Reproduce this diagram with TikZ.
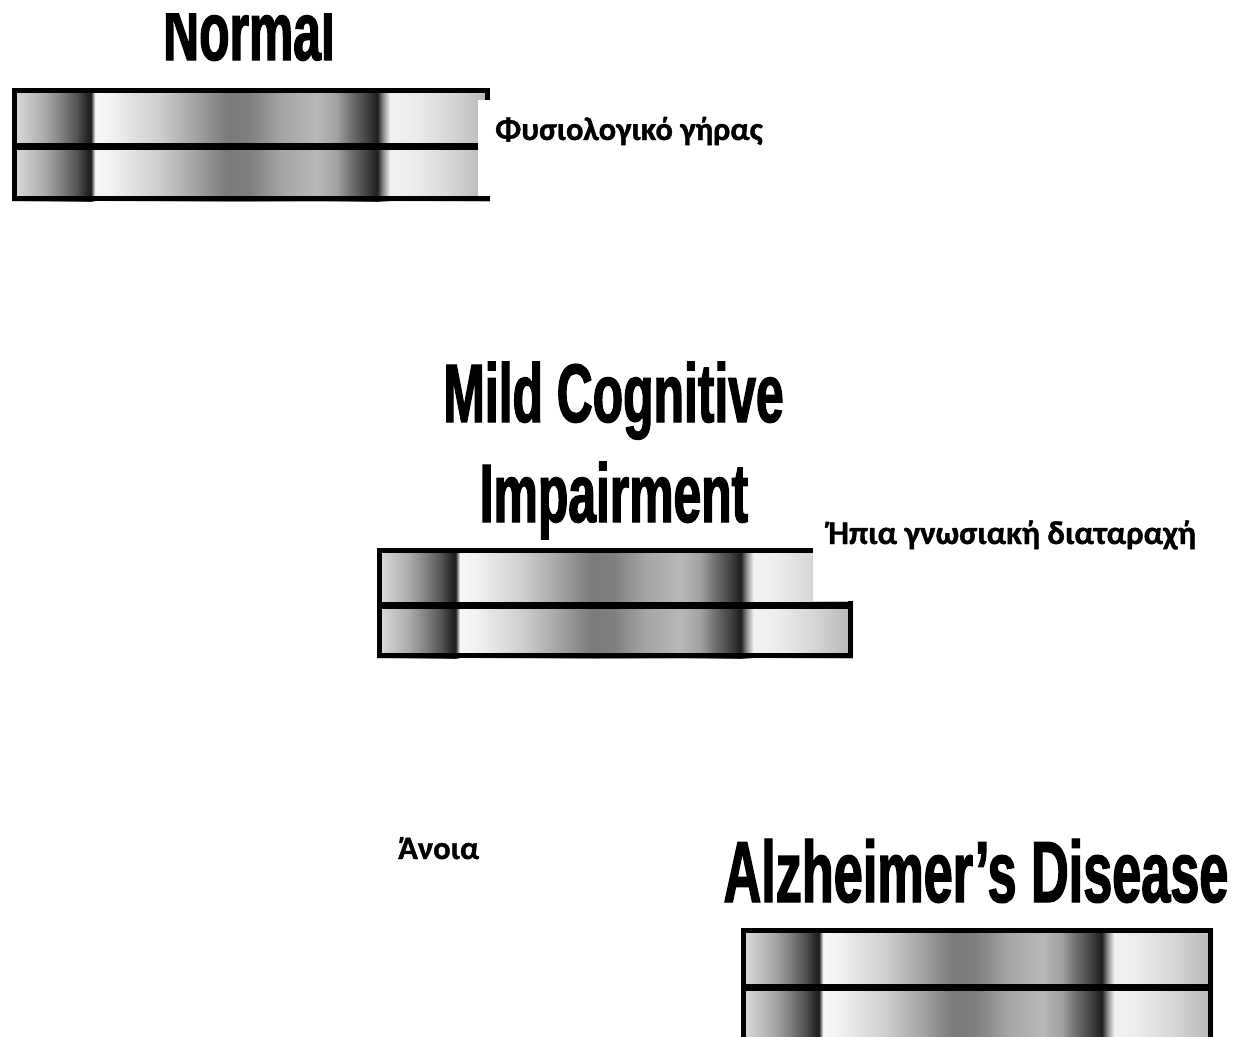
\documentclass[tikz,border=0pt]{standalone}
\usepackage{fontspec}
\newfontfamily\titlefont[FakeStretch=0.6,FakeBold=1.5]{Liberation Sans Bold}
\newfontfamily\grfont[FakeBold=1.2]{Carlito Bold}
\pgfdeclarehorizontalshading{barshade}{100bp}{%
rgb(0bp)=(.82,.82,.82);
rgb(25bp)=(.82,.82,.82);
rgb(25.4bp)=(.85,.85,.85);
rgb(28.25bp)=(.68,.68,.68);
rgb(30bp)=(.52,.52,.52);
rgb(31.8bp)=(.32,.32,.32);
rgb(32.85bp)=(.15,.15,.15);
rgb(33.25bp)=(.12,.12,.12);
rgb(33.7bp)=(.97,.97,.97);
rgb(35.25bp)=(.95,.95,.95);
rgb(40.5bp)=(.80,.80,.80);
rgb(43.95bp)=(.65,.65,.65);
rgb(47.5bp)=(.48,.48,.48);
rgb(49.9bp)=(.50,.50,.50);
rgb(53.35bp)=(.65,.65,.65);
rgb(56.9bp)=(.72,.72,.72);
rgb(59bp)=(.63,.63,.63);
rgb(60.35bp)=(.45,.45,.45);
rgb(62.15bp)=(.25,.25,.25);
rgb(63.2bp)=(.12,.12,.12);
rgb(63.8bp)=(.55,.55,.55);
rgb(64.55bp)=(.95,.95,.95);
rgb(67.35bp)=(.92,.92,.92);
rgb(70.8bp)=(.84,.84,.84);
rgb(73.75bp)=(.75,.75,.75);
rgb(75bp)=(.72,.72,.72);
rgb(100bp)=(.72,.72,.72)}
\begin{document}
\begin{tikzpicture}[x=1pt,y=-1pt,
  frame/.style={line width=5pt, line join=miter},
  divider/.style={line width=7pt},
  bar/.style={shading=barshade},
  whitebox/.style={fill=white, inner sep=0pt, anchor=south west},
  title/.style={font=\titlefont\fontsize{83pt}{83pt}\selectfont, inner sep=0pt, anchor=base},
  grk/.style={font=\grfont\fontsize{32.5pt}{32.5pt}\selectfont, inner sep=0pt, anchor=base west}]
\useasboundingbox[fill=white] (0,0) rectangle (1246,1036);
\begin{scope}
\clip (0,0) rectangle (1246,1036);
% Normal
\begin{scope}
\clip (0,13) rectangle (1246,100);
\node[title] (tNormal) at (249,60) {Normal};
\end{scope}
\fill[bar] (12,88) rectangle (490,201);
\draw[frame] (14.5,90.5) rectangle (487.5,198.5);
\draw[divider] (12,146.5) -- (490,146.5);
\node[whitebox, minimum width=320pt, minimum height=96pt] (boxN) at (478,196) {};
\node[grk] (gN) at (495,140) {Φυσιολογικό γήρας};
% MCI
\node[title] (tMCI1) at (613.5,422) {Mild Cognitive};
\node[title] (tMCI2) at (614,522) {Impairment};
\fill[bar] (377,548) rectangle (853,658);
\draw[frame] (379.5,550.5) rectangle (850.5,655.5);
\node[whitebox, minimum width=430pt, minimum height=62pt] (boxM) at (813,601.5) {};
\draw[divider] (377,605) -- (853,605);
\node[grk, font=\grfont\fontsize{33pt}{33pt}\selectfont] (gM) at (828,544) {Ήπια γνωσιακή διαταραχή};
% Alzheimer
\node[title, font=\titlefont\fontsize{87pt}{87pt}\selectfont] (tAD) at (976,902) {Alzheimer’s Disease};
\fill[bar] (741,928) rectangle (1213,1042);
\draw[frame] (743.5,930.5) rectangle (1210.5,1039.5);
\draw[divider] (741,987) -- (1213,987);
\node[grk] (gA) at (398,859) {Άνοια};
\end{scope}
\end{tikzpicture}
\end{document}
